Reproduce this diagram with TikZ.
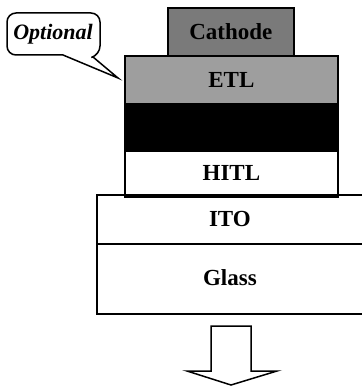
\documentclass[tikz,border=0pt]{standalone}
\usepackage{fontspec}
\setmainfont{Liberation Serif}
\begin{document}
\begin{tikzpicture}[x=1pt,y=-1pt,
  layer/.style={draw=black,line width=1.8pt,inner sep=0pt,anchor=north west,
    font=\fontsize{23}{27}\selectfont\bfseries},
  outline/.style={draw=black,line width=1.8pt}]
\useasboundingbox (0,0) rectangle (361,387);
% layers
\node[layer,fill=black!52,minimum width=126pt,minimum height=48pt] (cathode) at (167,7) {Cathode};
\node[layer,fill=black!38,minimum width=213pt,minimum height=48pt] (etl) at (124,55) {ETL};
\node[layer,fill=black,minimum width=213pt,minimum height=47pt] (eml) at (124,103) {};
\node[layer,fill=white,minimum width=213pt,minimum height=45pt] (hitl) at (124,150) {HITL};
\node[layer,draw=none,minimum width=264pt,minimum height=47pt] (ito) at (97,195) {ITO};
\node[layer,draw=none,minimum width=264pt,minimum height=70pt] (glass) at (97,242) {Glass};
\draw[outline] (ito.north east) -- (ito.north west) -- (glass.south west) -- (glass.south east);
\draw[outline] (ito.south west) -- (ito.south east);
\draw[outline] (hitl.south west) -- (hitl.south east);
% arrow
\coordinate (tip) at (231,385);
\draw[outline,line width=1.5pt,line join=miter] (211,326) -- (251,326) -- (251,371) -- (277,371) -- (tip) -- (187,371) -- (211,371) -- cycle;
% callout
\draw[outline,line width=1.5pt,fill=white] (63,55) [rounded corners=9pt] -- (7,55) -- (7,13) -- (100,13) -- (100,55) [sharp corners] -- (93,57) -- (118,78) -- cycle;
\node[font=\fontsize{22}{26}\selectfont\bfseries\itshape] (opt) at (53,34) {Optional};
\end{tikzpicture}
\end{document}
